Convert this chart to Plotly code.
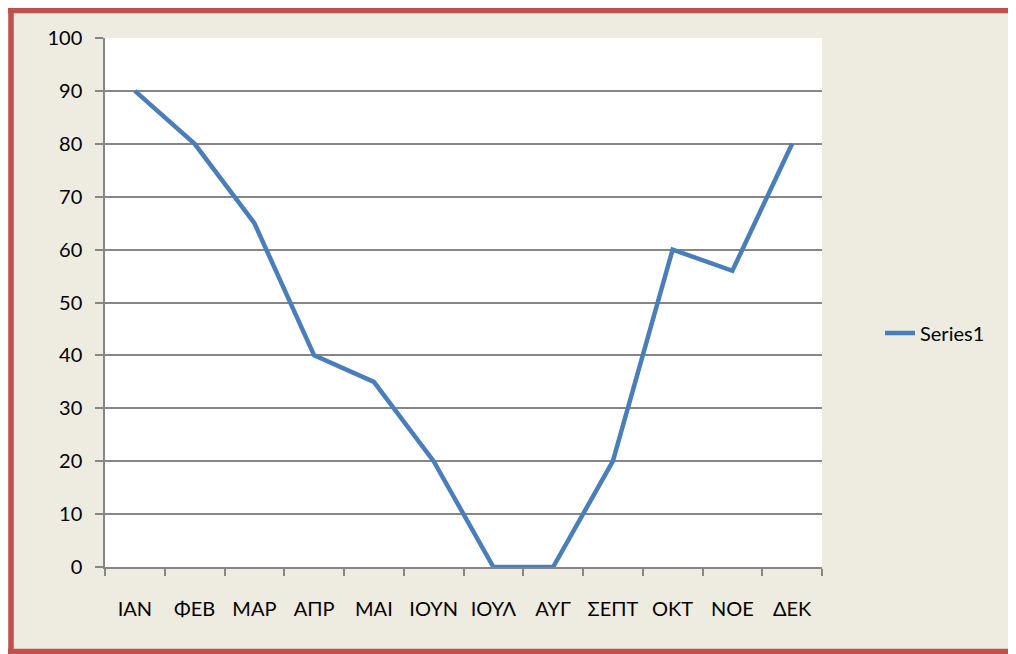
import plotly.graph_objects as go

months = ["ΙΑΝ", "ΦΕΒ", "ΜΑΡ", "ΑΠΡ", "ΜΑΙ", "ΙΟΥΝ", "ΙΟΥΛ", "ΑΥΓ", "ΣΕΠΤ", "ΟΚΤ", "ΝΟΕ", "ΔΕΚ"]
series1 = [90, 80, 65, 40, 35, 20, 0, 0, 20, 60, 56, 80]
y_ticks = [0, 10, 20, 30, 40, 50, 60, 70, 80, 90, 100]

W, H = 1000, 646
L, R, T, B = 97, 814, 30, 559

def px(x):
    return (x - L) / (R - L)

def py(y):
    return (B - y) / (B - T)

fig = go.Figure()
fig.add_trace(go.Scatter(
    x=months, y=series1, mode="lines", name="Series1",
    line=dict(color="#4A7EBB", width=4.5),
))

border = dict(color="#C0504D", width=5.5)
frame = [
    dict(type="line", xref="paper", yref="paper", x0=px(0), x1=px(W), y0=py(2.5), y1=py(2.5), line=border, layer="above"),
    dict(type="line", xref="paper", yref="paper", x0=px(0), x1=px(W), y0=py(643.5), y1=py(643.5), line=border, layer="above"),
    dict(type="line", xref="paper", yref="paper", x0=px(3), x1=px(3), y0=py(0), y1=py(H), line=border, layer="above"),
]

font_family = "Lato, 'Open Sans', sans-serif"
fig.update_layout(
    width=W, height=H,
    margin=dict(l=L, r=W - R, t=T, b=H - B, pad=0),
    paper_bgcolor="#EEEBE0",
    plot_bgcolor="white",
    font=dict(family=font_family, size=20, color="black"),
    showlegend=True,
    legend=dict(x=px(872), y=py(325), xanchor="left", yanchor="middle",
                bgcolor="rgba(0,0,0,0)", font=dict(size=20)),
    xaxis=dict(
        type="category", categoryorder="array", categoryarray=months,
        range=[-0.5, 11.5],
        showgrid=False, showline=True, linecolor="#868686", linewidth=1.5,
        ticks="outside", ticklen=7, tickcolor="#868686", tickwidth=1.5,
        tickson="boundaries", ticklabelstandoff=23, tickangle=0,
        tickfont=dict(size=20),
    ),
    yaxis=dict(
        range=[0, 100], tickvals=y_ticks,
        showgrid=True, gridcolor="#868686", gridwidth=1.5,
        showline=True, linecolor="#868686", linewidth=1.5,
        ticks="outside", ticklen=8, tickcolor="#868686", tickwidth=1.5,
        ticklabelstandoff=9, zeroline=False,
        tickfont=dict(size=20),
    ),
    shapes=frame,
)

fig.write_html("out.html")
